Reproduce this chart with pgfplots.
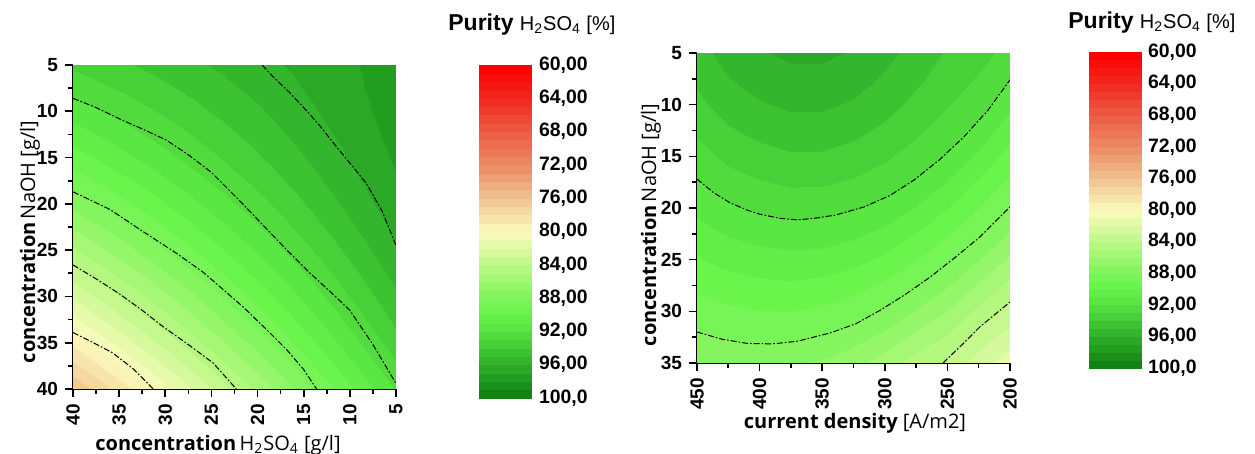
\documentclass[border=0pt]{standalone}
\usepackage{fontspec}
\setmainfont{Liberation Sans}
\newfontfamily\lab{Open Sans}
\usepackage{pgfplots}
\pgfplotsset{compat=1.18}

\pgfplotsset{
  colormap={purity}{rgb255(0pt)=(255,0,0) rgb255(4pt)=(240,45,35) rgb255(8pt)=(236,95,70)
    rgb255(12pt)=(236,140,100) rgb255(16pt)=(240,195,145) rgb255(20pt)=(250,250,190)
    rgb255(22pt)=(225,250,165) rgb255(24pt)=(190,248,135) rgb255(28pt)=(128,245,92)
    rgb255(30pt)=(104,244,74) rgb255(32pt)=(88,228,66) rgb255(34pt)=(70,206,55)
    rgb255(36pt)=(50,180,44) rgb255(38pt)=(34,156,32) rgb255(40pt)=(18,130,18)},
  contourline/.style={black, line width=0.5pt, dash pattern=on 3pt off 1pt on 0.8pt off 1pt},
  bands/.style={contour filled={levels={60,61,62,63,64,65,66,67,68,69,70,71,72,73,74,75,76,77,78,79,80,
    81,82,83,84,85,86,87,88,89,90,91,92,93,94,95,96,97,98,99,100}}, point meta=explicit},
  purityaxis/.style={
    scale only axis,
    colormap name=purity,
    point meta min=60, point meta max=100,
    x dir=reverse, y dir=reverse,
    axis x line*=bottom, axis y line*=left,
    axis line style={-, line width=1pt},
    tick align=outside,
    major tick length=4pt, minor tick length=2.5pt,
    every tick/.style={black, line width=0.8pt},
    minor x tick num=1, minor y tick num=1,
    tick label style={font=\bfseries\fontsize{9.5}{10}\selectfont},
    /pgf/number format/assume math mode=true,
    xticklabel style={rotate=90, anchor=east},
    enlargelimits=false,
    colorbar,
  },
  puritybar/.style={
    scale only axis,
    at={(parent axis.north east)}, anchor=north west,
    y dir=reverse,
    ytick={60,64,...,100},
    yticklabels={{60,00},{64,00},{68,00},{72,00},{76,00},{80,00},{84,00},{88,00},{92,00},{96,00},{100,0}},
    yticklabel style={font=\bfseries\fontsize{9.7}{10}\selectfont},
    /pgf/number format/assume math mode=true,
    major tick length=0pt,
    axis line style={draw=none},
  },
}

\begin{document}
\begin{tikzpicture}
\useasboundingbox (-36.5pt,-32.5pt) rectangle (591pt,194.5pt);

% left: H2SO4 vs NaOH
\begin{axis}[purityaxis,
  width=161.5pt, height=162pt,
  xmin=5, xmax=40, ymin=5, ymax=40,
  xtick={5,10,...,40}, ytick={5,10,...,40},
  colorbar style={puritybar, xshift=33pt, width=26.5pt, height=166.5pt},
]
\addplot[bands, mesh/cols=15] table[meta=z] {
x y z
40 5 93.20
37.5 5 93.51
35 5 93.81
32.5 5 94.12
30 5 94.43
27.5 5 94.74
25 5 95.04
22.5 5 95.35
20 5 95.66
17.5 5 95.96
15 5 96.27
12.5 5 96.58
10 5 96.89
7.5 5 97.19
5 5 97.50
40 7.5 92.37
37.5 7.5 92.74
35 7.5 93.10
32.5 7.5 93.47
30 7.5 93.84
27.5 7.5 94.20
25 7.5 94.57
22.5 7.5 94.94
20 7.5 95.30
17.5 7.5 95.67
15 7.5 96.04
12.5 7.5 96.40
10 7.5 96.77
7.5 7.5 97.14
5 7.5 97.51
40 10 91.48
37.5 10 91.91
35 10 92.33
32.5 10 92.76
30 10 93.19
27.5 10 93.61
25 10 94.04
22.5 10 94.47
20 10 94.89
17.5 10 95.32
15 10 95.75
12.5 10 96.17
10 10 96.60
7.5 10 97.02
5 10 97.45
40 12.5 90.53
37.5 12.5 91.02
35 12.5 91.50
32.5 12.5 91.99
30 12.5 92.47
27.5 12.5 92.96
25 12.5 93.45
22.5 12.5 93.93
20 12.5 94.42
17.5 12.5 94.91
15 12.5 95.39
12.5 12.5 95.88
10 12.5 96.36
7.5 12.5 96.85
5 12.5 97.34
40 15 89.52
37.5 15 90.06
35 15 90.61
32.5 15 91.16
30 15 91.70
27.5 15 92.25
25 15 92.79
22.5 15 93.34
20 15 93.89
17.5 15 94.43
15 15 94.98
12.5 15 95.52
10 15 96.07
7.5 15 96.62
5 15 97.16
40 17.5 88.45
37.5 17.5 89.05
35 17.5 89.66
32.5 17.5 90.26
30 17.5 90.87
27.5 17.5 91.48
25 17.5 92.08
22.5 17.5 92.69
20 17.5 93.29
17.5 17.5 93.90
15 17.5 94.50
12.5 17.5 95.11
10 17.5 95.71
7.5 17.5 96.32
5 17.5 96.93
40 20 87.32
37.5 20 87.98
35 20 88.65
32.5 20 89.31
30 20 89.98
27.5 20 90.64
25 20 91.31
22.5 20 91.97
20 20 92.64
17.5 20 93.30
15 20 93.97
12.5 20 94.63
10 20 95.30
7.5 20 95.97
5 20 96.63
40 22.5 86.13
37.5 22.5 86.85
35 22.5 87.58
32.5 22.5 88.30
30 22.5 89.03
27.5 22.5 89.75
25 22.5 90.48
22.5 22.5 91.20
20 22.5 91.93
17.5 22.5 92.65
15 22.5 93.38
12.5 22.5 94.10
10 22.5 94.83
7.5 22.5 95.55
5 22.5 96.28
40 25 84.87
37.5 25 85.66
35 25 86.44
32.5 25 87.23
30 25 88.01
27.5 25 88.80
25 25 89.58
22.5 25 90.37
20 25 91.15
17.5 25 91.94
15 25 92.72
12.5 25 93.51
10 25 94.29
7.5 25 95.07
5 25 95.86
40 27.5 83.56
37.5 27.5 84.41
35 27.5 85.25
32.5 27.5 86.09
30 27.5 86.94
27.5 27.5 87.78
25 27.5 88.63
22.5 27.5 89.47
20 27.5 90.32
17.5 27.5 91.16
15 27.5 92.01
12.5 27.5 92.85
10 27.5 93.69
7.5 27.5 94.54
5 27.5 95.38
40 30 82.19
37.5 30 83.09
35 30 84.00
32.5 30 84.90
30 30 85.81
27.5 30 86.71
25 30 87.61
22.5 30 88.52
20 30 89.42
17.5 30 90.33
15 30 91.23
12.5 30 92.13
10 30 93.04
7.5 30 93.94
5 30 94.85
40 32.5 80.76
37.5 32.5 81.72
35 32.5 82.69
32.5 32.5 83.65
30 32.5 84.61
27.5 32.5 85.58
25 32.5 86.54
22.5 32.5 87.50
20 32.5 88.47
17.5 32.5 89.43
15 32.5 90.40
12.5 32.5 91.36
10 32.5 92.32
7.5 32.5 93.29
5 32.5 94.25
40 35 79.27
37.5 35 80.29
35 35 81.31
32.5 35 82.34
30 35 83.36
27.5 35 84.38
25 35 85.41
22.5 35 86.43
20 35 87.45
17.5 35 88.48
15 35 89.50
12.5 35 90.52
10 35 91.55
7.5 35 92.57
5 35 93.59
40 37.5 77.71
37.5 37.5 78.80
35 37.5 79.88
32.5 37.5 80.96
30 37.5 82.05
27.5 37.5 83.13
25 37.5 84.21
22.5 37.5 85.29
20 37.5 86.38
17.5 37.5 87.46
15 37.5 88.54
12.5 37.5 89.63
10 37.5 90.71
7.5 37.5 91.79
5 37.5 92.88
40 40 76.10
37.5 40 77.24
35 40 78.39
32.5 40 79.53
30 40 80.67
27.5 40 81.81
25 40 82.96
22.5 40 84.10
20 40 85.24
17.5 40 86.39
15 40 87.53
12.5 40 88.67
10 40 89.81
7.5 40 90.96
5 40 92.10
};
% contour lines
\addplot[contourline] coordinates {(19.5,5) (18.3,6.3) (16.5,8.0) (15,9.6) (13.3,11.5) (11.8,13.4) (10,15.6) (8.2,17.8) (6.5,20.8) (5,24.5)};
\addplot[contourline] coordinates {(40,8.6) (37.5,9.6) (35,10.8) (32.5,11.9) (29.9,13.1) (27.5,14.7) (25,16.6) (21.9,19.7) (19.5,22.2) (17.2,24.6) (14.3,27.5) (12,29.6) (10,31.5) (7.5,35.2) (5,39.4)};
\addplot[contourline] coordinates {(40,18.7) (36,20.6) (32.7,22.8) (29,25.2) (26,27.3) (23.8,29.2) (21.6,31.1) (19,33.6) (16.8,35.8) (15,37.9) (13.6,40)};
\addplot[contourline] coordinates {(40,26.6) (37.5,28.1) (35,29.7) (32.5,31.5) (30.2,33.3) (27.5,35.2) (24.8,37.2) (22.3,40)};
\addplot[contourline] coordinates {(40,33.9) (37.8,35) (35.7,36.1) (33.5,37.8) (31.3,40)};
\end{axis}

% right: current density vs NaOH
\begin{axis}[purityaxis,
  at={(312pt,13pt)},
  width=156.5pt, height=155pt,
  xmin=200, xmax=450, ymin=5, ymax=35,
  xtick={200,250,...,450}, ytick={5,10,...,35},
  colorbar style={puritybar, xshift=31pt, yshift=0.5pt, width=26pt, height=158pt},
]
\addplot[bands, mesh/cols=11] table[meta=z] {
x y z
450 5 94.60
425 5 95.40
400 5 95.90
375 5 96.20
350 5 96.20
325 5 95.90
300 5 95.30
275 5 94.60
250 5 93.90
225 5 93.30
200 5 92.70
450 7.5 94.19
425 7.5 94.96
400 7.5 95.43
375 7.5 95.71
350 7.5 95.71
325 7.5 95.42
300 7.5 94.86
275 7.5 94.19
250 7.5 93.52
225 7.5 92.90
200 7.5 92.03
450 10 93.72
425 10 94.45
400 10 94.90
375 10 95.17
350 10 95.16
325 10 94.88
300 10 94.36
275 10 93.72
250 10 93.06
225 10 92.39
200 10 91.22
450 12.5 93.19
425 12.5 93.88
400 12.5 94.31
375 12.5 94.56
350 12.5 94.55
325 12.5 94.28
300 12.5 93.79
275 12.5 93.19
250 12.5 92.53
225 12.5 91.68
200 12.5 90.41
450 15 92.58
425 15 93.26
400 15 93.65
375 15 93.89
350 15 93.87
325 15 93.62
300 15 93.16
275 15 92.58
250 15 91.89
225 15 90.79
200 15 89.59
450 17.5 91.92
425 17.5 92.57
400 17.5 92.94
375 17.5 93.16
350 17.5 93.13
325 17.5 92.89
300 17.5 92.47
275 17.5 91.89
250 17.5 90.96
225 17.5 89.89
200 17.5 88.78
450 20 91.24
425 20 91.82
400 20 92.16
375 20 92.37
350 20 92.34
325 20 92.10
300 20 91.66
275 20 90.93
250 20 90.04
225 20 89.00
200 20 87.96
450 22.5 90.57
425 22.5 91.07
400 22.5 91.37
375 22.5 91.53
350 22.5 91.47
325 22.5 91.20
300 22.5 90.72
275 22.5 89.98
250 22.5 89.11
225 22.5 88.11
200 22.5 86.87
450 25 89.89
425 25 90.32
400 25 90.57
375 25 90.69
350 25 90.60
325 25 90.29
300 25 89.77
275 25 89.03
250 25 88.19
225 25 87.00
200 25 85.78
450 27.5 89.22
425 27.5 89.56
400 27.5 89.78
375 27.5 89.85
350 27.5 89.72
325 27.5 89.38
300 27.5 88.83
275 27.5 88.08
250 27.5 87.12
225 27.5 85.86
200 27.5 84.70
450 30 88.54
425 30 88.81
400 30 88.98
375 30 89.01
350 30 88.84
325 30 88.47
300 30 87.86
275 30 86.90
250 30 86.02
225 30 84.73
200 30 83.61
450 32.5 87.83
425 32.5 88.06
400 32.5 88.19
375 32.5 88.17
350 32.5 87.96
325 32.5 87.45
300 32.5 86.68
275 32.5 85.71
250 32.5 84.92
225 32.5 83.59
200 32.5 82.52
450 35 86.99
425 35 87.14
400 35 87.25
375 35 87.16
350 35 86.86
325 35 86.32
300 35 85.50
275 35 84.52
250 35 83.82
225 35 82.45
200 35 81.43
};
\addplot[contourline] coordinates {(450,17.2) (437,18.5) (423.6,19.5) (410,20.2) (400,20.6) (383.7,21.0) (370,21.15) (356.5,21.0) (340,20.7) (316.6,19.9) (296,18.8) (276.7,17.3) (256,15.3) (236.7,13.1) (218,10.6) (200,7.6)};
\addplot[contourline] coordinates {(450,32.0) (430,32.7) (410,33.1) (390,33.15) (370,32.9) (343.8,32.1) (323,31.2) (303.8,29.9) (284,28.4) (263.9,26.7) (244,24.8) (224,22.8) (200,19.9)};
\addplot[contourline] coordinates {(253.5,35) (238,33.2) (224,31.5) (200,29.1)};
\end{axis}

% axis labels
\node[rotate=90, font=\lab\fontsize{10}{12}\selectfont] at (-21.5pt,73.5pt)
  {\textbf{concentration}\,NaOH [g/l]};
\node[font=\lab\fontsize{10}{12}\selectfont] at (72.5pt,-28pt)
  {\textbf{concentration}\,H\textsubscript{2}SO\textsubscript{4} [g/l]};
\node[rotate=90, font=\lab\fontsize{10}{12}\selectfont] at (289pt,82pt)
  {\textbf{concentration}\,NaOH [g/l]};
\node[font=\lab\fontsize{10}{12}\selectfont] at (391pt,-17pt)
  {\textbf{current density} [A/m2]};

% colour bar titles
\node[anchor=west, inner sep=0pt] at (187.5pt,182pt)
  {\fontsize{11.5}{12}\selectfont\textbf{Purity} \fontsize{10}{12}\selectfont H\textsubscript{2}SO\textsubscript{4} [\%]};
\node[anchor=west, inner sep=0pt] at (497.5pt,183pt)
  {\fontsize{11.5}{12}\selectfont\textbf{Purity} \fontsize{10}{12}\selectfont H\textsubscript{2}SO\textsubscript{4} [\%]};
\end{tikzpicture}
\end{document}
